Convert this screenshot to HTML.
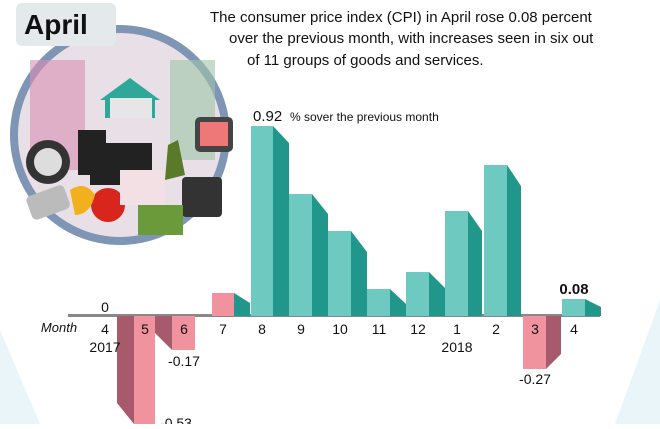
<!DOCTYPE html><html><head><style>
body{margin:0;width:660px;height:424px;overflow:hidden;background:#fff;font-family:"Liberation Sans",sans-serif}
</style></head><body>
<svg width="660" height="424" xmlns="http://www.w3.org/2000/svg" font-family="Liberation Sans, sans-serif">
<polygon points="0,330 40,424 0,424" fill="#eaf5f9"/>
<polygon points="660,300 615,424 660,424" fill="#eaf5f9"/>
<circle cx="120" cy="135" r="110" fill="#7f95b5"/>
<circle cx="120" cy="135" r="102" fill="#e9dfe6"/>
<rect x="30" y="60" width="55" height="110" fill="#d88fb4" opacity="0.6"/>
<rect x="170" y="60" width="45" height="100" fill="#9cc7a8" opacity="0.6"/>
<polygon points="100,100 130,78 160,100 155,100 155,118 105,118 105,100" fill="#2fa89a"/>
<rect x="110" y="98" width="42" height="20" fill="#e6e6e6"/>
<circle cx="48" cy="162" r="22" fill="#333"/><circle cx="48" cy="162" r="14" fill="#ddd"/>
<rect x="78" y="130" width="28" height="45" fill="#222"/>
<rect x="90" y="143" width="62" height="42" fill="#222"/>
<polygon points="168,145 178,140 185,175 165,180" fill="#5a7a2a"/>
<rect x="195" y="117" width="38" height="35" rx="5" fill="#444"/>
<rect x="200" y="122" width="28" height="24" fill="#e77"/>
<rect x="182" y="177" width="40" height="40" rx="4" fill="#333"/>
<circle cx="108" cy="205" r="17" fill="#d8261c"/>
<path d="M70,190 q15,-10 25,5 q-5,20 -20,20 z" fill="#f2b01e"/>
<rect x="28" y="190" width="40" height="25" rx="5" fill="#bbb" transform="rotate(-20 48 202)"/>
<rect x="120" y="170" width="45" height="35" fill="#f3e0e4"/>
<rect x="138" y="205" width="45" height="30" fill="#6a9a3a"/>
<rect x="16" y="3" width="100" height="43" rx="6" fill="#e4e9ec"/>
<text x="24" y="34" font-size="28" font-weight="bold" fill="#111">April</text>
<text font-size="15" fill="#111"><tspan x="210" y="22">The consumer price index (CPI) in April rose 0.08 percent</tspan><tspan x="229" y="43">over the previous month, with increases seen in six out</tspan><tspan x="247" y="65">of 11 groups of goods and services.</tspan></text>
<text x="253" y="121" font-size="15" fill="#111">0.92</text><text x="290" y="121" font-size="12" fill="#111">% sover the previous month</text>
<rect x="68" y="314" width="532" height="3" fill="#888"/>
<g fill="#21968a">
<polygon points="234,293 250,303 250,316 234,316"/>
<polygon points="273,126 289,143 289,316 273,316"/>
<polygon points="312,194 328,214 328,316 312,316"/>
<polygon points="351,231 367,252 367,316 351,316"/>
<polygon points="390,289 406,304 406,316 390,316"/>
<polygon points="429,272 445,288 445,316 429,316"/>
<polygon points="468,211 482,231 482,316 468,316"/>
<polygon points="507,165 521,186 521,316 507,316"/>
<polygon points="585,299 601,307 601,316 585,316"/>
</g>
<rect x="212" y="293" width="22" height="23" fill="#f0939f"/>
<g fill="#6ec9c0">
<rect x="251" y="126" width="22" height="190"/>
<rect x="289" y="194" width="23" height="122"/>
<rect x="328" y="231" width="23" height="85"/>
<rect x="367" y="289" width="23" height="27"/>
<rect x="406" y="272" width="23" height="44"/>
<rect x="445" y="211" width="23" height="105"/>
<rect x="484" y="165" width="23" height="151"/>
<rect x="562" y="299" width="23" height="17"/>
</g>
<g fill="#a85a6d">
<polygon points="117,316 134,316 134,424 117,403"/>
<polygon points="155,316 172,316 172,350 155,333"/>
<polygon points="546,316 561,316 561,354 546,369"/>
</g>
<g fill="#f0939f">
<rect x="134" y="316" width="21" height="108"/>
<rect x="172" y="316" width="23" height="34"/>
<rect x="523" y="316" width="23" height="53"/>
</g>
<g font-size="14" fill="#111" text-anchor="middle">
<text x="105" y="312">0</text>
<text x="59" y="332" font-style="italic" font-size="13">Month</text>
<text x="105" y="334">4</text><text x="145" y="334">5</text><text x="184" y="334">6</text><text x="223" y="334">7</text><text x="262" y="334">8</text><text x="301" y="334">9</text><text x="340" y="334">10</text><text x="379" y="334">11</text><text x="418" y="334">12</text><text x="457" y="334">1</text><text x="496" y="334">2</text><text x="535" y="334">3</text><text x="574" y="334">4</text>
<text x="105" y="352">2017</text><text x="457" y="352">2018</text>
<text x="184" y="366">-0.17</text>
<text x="535" y="384">-0.27</text>
<text x="176" y="428">-0.53</text>
<text x="574" y="294" font-weight="bold" font-size="15">0.08</text>
</g>
</svg>
</body></html>
